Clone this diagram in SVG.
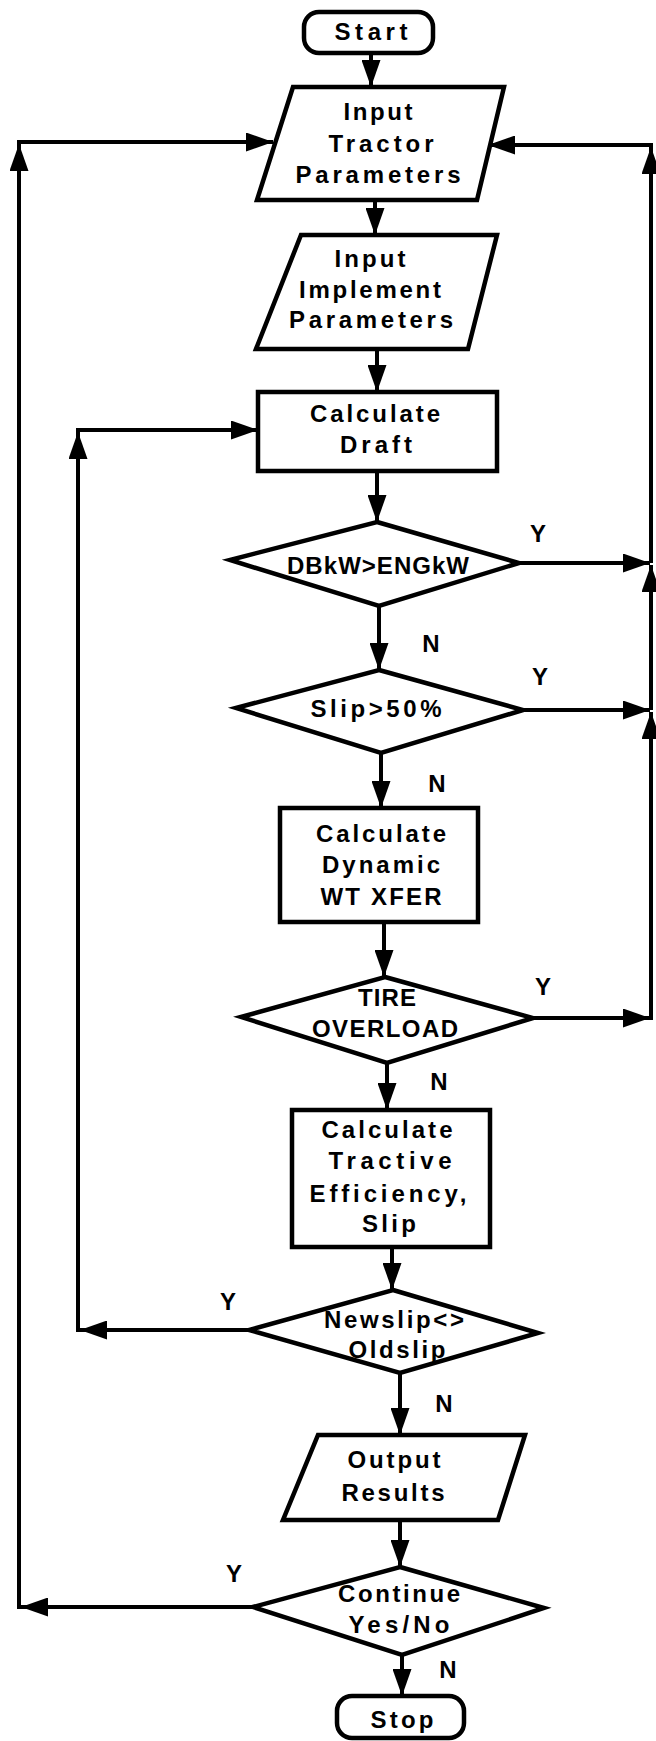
<svg xmlns="http://www.w3.org/2000/svg" width="656" height="1741" viewBox="0 0 656 1741">
<style>
.s{fill:#fff;stroke:#000;stroke-width:4.5;stroke-linejoin:miter}
.c{fill:none;stroke:#000;stroke-width:4}
.a{marker-end:url(#ah)}
text{font-family:"Liberation Sans",Arial,Helvetica,sans-serif;font-weight:bold;font-size:24px;fill:#000;text-anchor:middle}
</style>
<defs>
<marker id="ah" markerUnits="userSpaceOnUse" markerWidth="27" markerHeight="19" refX="27" refY="9.5" orient="auto">
<path d="M0,0 L27,9.5 L0,19 Z" fill="#000"/>
</marker>
</defs>
<rect width="656" height="1741" fill="#fff"/>
<g id="connectors">
<path class="c a" d="M371,53 V87"/>
<path class="c a" d="M375,200 V235"/>
<path class="c a" d="M377,349 V392"/>
<path class="c a" d="M377,472 V522"/>
<path class="c a" d="M379,606 V670"/>
<path class="c a" d="M381,753 V808"/>
<path class="c a" d="M384,922 V977"/>
<path class="c a" d="M387,1063 V1110"/>
<path class="c a" d="M392,1247 V1290"/>
<path class="c a" d="M400,1373 V1435"/>
<path class="c a" d="M400,1520 V1567"/>
<path class="c a" d="M402,1655 V1696"/>
<path class="c a" d="M519,563 H650"/>
<path class="c a" d="M523,710 H650"/>
<path class="c a" d="M533,1018 H650"/>
<path class="c a" d="M651,1020 V712"/>
<path class="c a" d="M651,710 V565"/>
<path class="c a" d="M651,563 V147"/>
<path class="c a" d="M653,145 H488"/>
<path class="c a" d="M249,1330 H80"/>
<path class="c a" d="M78,1332 V432"/>
<path class="c" d="M78,432 V430"/>
<path class="c a" d="M76,430 H258"/>
<path class="c a" d="M253,1607 H21"/>
<path class="c a" d="M19,1609 V144"/>
<path class="c a" d="M17,142 H273"/>
</g>
<g id="start">
<rect class="s" x="304" y="12" width="129" height="41" rx="15"/>
<text x="371" y="40" textLength="73" lengthAdjust="spacing">Start</text>
</g>
<g id="input-tractor">
<polygon class="s" points="293,87 504,87 477,200 257,200"/>
<text x="378" y="120" textLength="69" lengthAdjust="spacing">Input</text>
<text x="381" y="152" textLength="105" lengthAdjust="spacing">Tractor</text>
<text x="378" y="183" textLength="165" lengthAdjust="spacing">Parameters</text>
</g>
<g id="input-implement">
<polygon class="s" points="301,235 497,235 468,349 256,349"/>
<text x="370" y="267" textLength="71" lengthAdjust="spacing">Input</text>
<text x="370" y="298" textLength="142" lengthAdjust="spacing">Implement</text>
<text x="371" y="328" textLength="164" lengthAdjust="spacing">Parameters</text>
</g>
<g id="calc-draft">
<rect class="s" x="258" y="392" width="239" height="79"/>
<text x="375" y="422" textLength="130" lengthAdjust="spacing">Calculate</text>
<text x="376" y="453" textLength="72" lengthAdjust="spacing">Draft</text>
</g>
<g id="dbkw">
<polygon class="s" points="377,522 519,563 379,606 230,560"/>
<text x="378" y="574" textLength="182" lengthAdjust="spacing">DBkW&gt;ENGkW</text>
</g>
<g id="slip50">
<polygon class="s" points="379,670 523,710 381,753 236,708"/>
<text x="376" y="717" textLength="131" lengthAdjust="spacing">Slip&gt;50%</text>
</g>
<g id="calc-dynamic">
<rect class="s" x="280" y="808" width="198" height="114"/>
<text x="381" y="842" textLength="130" lengthAdjust="spacing">Calculate</text>
<text x="381" y="873" textLength="118" lengthAdjust="spacing">Dynamic</text>
<text x="381" y="905" textLength="121" lengthAdjust="spacing">WT XFER</text>
</g>
<g id="tire">
<polygon class="s" points="385,977 533,1018 387,1063 241,1017"/>
<text x="387" y="1006" textLength="58" lengthAdjust="spacing">TIRE</text>
<text x="385" y="1037" textLength="146" lengthAdjust="spacing">OVERLOAD</text>
</g>
<g id="calc-tractive">
<rect class="s" x="292" y="1110" width="198" height="137"/>
<text x="387" y="1138" textLength="131" lengthAdjust="spacing">Calculate</text>
<text x="390" y="1169" textLength="123" lengthAdjust="spacing">Tractive</text>
<text x="388" y="1202" textLength="157" lengthAdjust="spacing">Efficiency,</text>
<text x="389" y="1232" textLength="54" lengthAdjust="spacing">Slip</text>
</g>
<g id="newslip">
<polygon class="s" points="393,1290 538,1333 400,1373 249,1330"/>
<text x="394" y="1328" textLength="140" lengthAdjust="spacing">Newslip&lt;&gt;</text>
<text x="397" y="1358" textLength="97" lengthAdjust="spacing">Oldslip</text>
</g>
<g id="output">
<polygon class="s" points="318,1435 525,1435 498,1520 283,1520"/>
<text x="394" y="1468" textLength="93" lengthAdjust="spacing">Output</text>
<text x="393" y="1501" textLength="103" lengthAdjust="spacing">Results</text>
</g>
<g id="continue">
<polygon class="s" points="400,1567 544,1608 402,1655 253,1607"/>
<text x="399" y="1602" textLength="122" lengthAdjust="spacing">Continue</text>
<text x="399" y="1633" textLength="101" lengthAdjust="spacing">Yes/No</text>
</g>
<g id="stop">
<rect class="s" x="337" y="1696" width="127" height="42" rx="15"/>
<text x="402" y="1728" textLength="63" lengthAdjust="spacing">Stop</text>
</g>
<g id="labels">
<text x="538" y="542">Y</text>
<text x="431" y="652">N</text>
<text x="540" y="685">Y</text>
<text x="437" y="792">N</text>
<text x="543" y="995">Y</text>
<text x="439" y="1090">N</text>
<text x="228" y="1310">Y</text>
<text x="444" y="1412">N</text>
<text x="234" y="1582">Y</text>
<text x="448" y="1678">N</text>
</g>
</svg>
